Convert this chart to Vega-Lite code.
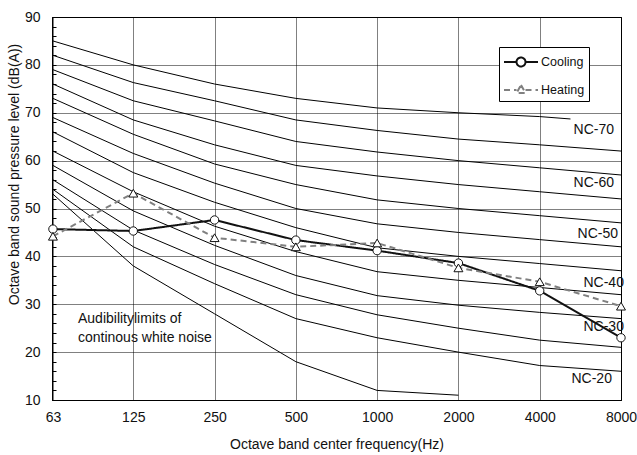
{
  "$schema": "https://vega.github.io/schema/vega-lite/v6.json",
  "width": 569,
  "height": 383,
  "autosize": {"type": "none"},
  "padding": {"left": 52, "top": 17, "right": 16, "bottom": 55},
  "background": "white",
  "config": {
    "view": {"stroke": "black", "strokeWidth": 1},
    "font": "Liberation Sans",
    "axis": {"labelColor": "#111", "titleColor": "#111", "labelFontSize": 14, "titleFontSize": 14, "titleFontWeight": "normal", "domainColor": "black"}
  },
  "datasets": {
    "nc": [
      {"curve": "NC-70", "freq": 63, "level": 85}, {"curve": "NC-70", "freq": 125, "level": 80}, {"curve": "NC-70", "freq": 250, "level": 76}, {"curve": "NC-70", "freq": 500, "level": 73}, {"curve": "NC-70", "freq": 1000, "level": 71}, {"curve": "NC-70", "freq": 2000, "level": 70}, {"curve": "NC-70", "freq": 4000, "level": 69.2}, {"curve": "NC-70", "freq": 5200, "level": 68.7},
      {"curve": "NC-65", "freq": 63, "level": 82}, {"curve": "NC-65", "freq": 125, "level": 76.3}, {"curve": "NC-65", "freq": 250, "level": 72.5}, {"curve": "NC-65", "freq": 500, "level": 68.5}, {"curve": "NC-65", "freq": 1000, "level": 66.3}, {"curve": "NC-65", "freq": 2000, "level": 64.5}, {"curve": "NC-65", "freq": 4000, "level": 63.3}, {"curve": "NC-65", "freq": 8000, "level": 62},
      {"curve": "NC-60", "freq": 63, "level": 79}, {"curve": "NC-60", "freq": 125, "level": 72.5}, {"curve": "NC-60", "freq": 250, "level": 68.3}, {"curve": "NC-60", "freq": 500, "level": 64}, {"curve": "NC-60", "freq": 1000, "level": 61.8}, {"curve": "NC-60", "freq": 2000, "level": 60}, {"curve": "NC-60", "freq": 4000, "level": 58.5}, {"curve": "NC-60", "freq": 8000, "level": 57},
      {"curve": "NC-55", "freq": 63, "level": 76}, {"curve": "NC-55", "freq": 125, "level": 68.5}, {"curve": "NC-55", "freq": 250, "level": 63.3}, {"curve": "NC-55", "freq": 500, "level": 59}, {"curve": "NC-55", "freq": 1000, "level": 56.8}, {"curve": "NC-55", "freq": 2000, "level": 55}, {"curve": "NC-55", "freq": 4000, "level": 53.5}, {"curve": "NC-55", "freq": 8000, "level": 52},
      {"curve": "NC-50", "freq": 63, "level": 73}, {"curve": "NC-50", "freq": 125, "level": 65.5}, {"curve": "NC-50", "freq": 250, "level": 59.3}, {"curve": "NC-50", "freq": 500, "level": 55}, {"curve": "NC-50", "freq": 1000, "level": 51.8}, {"curve": "NC-50", "freq": 2000, "level": 50}, {"curve": "NC-50", "freq": 4000, "level": 48.5}, {"curve": "NC-50", "freq": 8000, "level": 47},
      {"curve": "NC-45", "freq": 63, "level": 69}, {"curve": "NC-45", "freq": 125, "level": 61.5}, {"curve": "NC-45", "freq": 250, "level": 55.3}, {"curve": "NC-45", "freq": 500, "level": 50}, {"curve": "NC-45", "freq": 1000, "level": 46.8}, {"curve": "NC-45", "freq": 2000, "level": 45}, {"curve": "NC-45", "freq": 4000, "level": 43.5}, {"curve": "NC-45", "freq": 8000, "level": 42},
      {"curve": "NC-40", "freq": 63, "level": 66}, {"curve": "NC-40", "freq": 125, "level": 57.5}, {"curve": "NC-40", "freq": 250, "level": 51.3}, {"curve": "NC-40", "freq": 500, "level": 46}, {"curve": "NC-40", "freq": 1000, "level": 41.8}, {"curve": "NC-40", "freq": 2000, "level": 40}, {"curve": "NC-40", "freq": 4000, "level": 38.5}, {"curve": "NC-40", "freq": 8000, "level": 37},
      {"curve": "NC-35", "freq": 63, "level": 62}, {"curve": "NC-35", "freq": 125, "level": 53.5}, {"curve": "NC-35", "freq": 250, "level": 46.3}, {"curve": "NC-35", "freq": 500, "level": 41}, {"curve": "NC-35", "freq": 1000, "level": 36.8}, {"curve": "NC-35", "freq": 2000, "level": 35}, {"curve": "NC-35", "freq": 4000, "level": 33.5}, {"curve": "NC-35", "freq": 8000, "level": 32},
      {"curve": "NC-30", "freq": 63, "level": 59}, {"curve": "NC-30", "freq": 125, "level": 49.5}, {"curve": "NC-30", "freq": 250, "level": 42.3}, {"curve": "NC-30", "freq": 500, "level": 36}, {"curve": "NC-30", "freq": 1000, "level": 31.8}, {"curve": "NC-30", "freq": 2000, "level": 29.8}, {"curve": "NC-30", "freq": 4000, "level": 28.3}, {"curve": "NC-30", "freq": 8000, "level": 27},
      {"curve": "NC-25", "freq": 63, "level": 56}, {"curve": "NC-25", "freq": 125, "level": 45.5}, {"curve": "NC-25", "freq": 250, "level": 38.3}, {"curve": "NC-25", "freq": 500, "level": 32}, {"curve": "NC-25", "freq": 1000, "level": 27.8}, {"curve": "NC-25", "freq": 2000, "level": 25}, {"curve": "NC-25", "freq": 4000, "level": 22.5}, {"curve": "NC-25", "freq": 8000, "level": 21},
      {"curve": "NC-20", "freq": 63, "level": 54}, {"curve": "NC-20", "freq": 125, "level": 42}, {"curve": "NC-20", "freq": 250, "level": 34.3}, {"curve": "NC-20", "freq": 500, "level": 27}, {"curve": "NC-20", "freq": 1000, "level": 23}, {"curve": "NC-20", "freq": 2000, "level": 20}, {"curve": "NC-20", "freq": 4000, "level": 17.2}, {"curve": "NC-20", "freq": 8000, "level": 16},
      {"curve": "Audibility", "freq": 63, "level": 53}, {"curve": "Audibility", "freq": 125, "level": 38}, {"curve": "Audibility", "freq": 250, "level": 28}, {"curve": "Audibility", "freq": 500, "level": 18}, {"curve": "Audibility", "freq": 1000, "level": 12}, {"curve": "Audibility", "freq": 2000, "level": 11}
    ],
    "meas": [
      {"mode": "Cooling", "freq": 63, "level": 45.7}, {"mode": "Cooling", "freq": 125, "level": 45.3}, {"mode": "Cooling", "freq": 250, "level": 47.6}, {"mode": "Cooling", "freq": 500, "level": 43.4}, {"mode": "Cooling", "freq": 1000, "level": 41.2}, {"mode": "Cooling", "freq": 2000, "level": 38.6}, {"mode": "Cooling", "freq": 4000, "level": 32.8}, {"mode": "Cooling", "freq": 8000, "level": 23},
      {"mode": "Heating", "freq": 63, "level": 44.2}, {"mode": "Heating", "freq": 125, "level": 53.2}, {"mode": "Heating", "freq": 250, "level": 43.9}, {"mode": "Heating", "freq": 500, "level": 42}, {"mode": "Heating", "freq": 1000, "level": 42.8}, {"mode": "Heating", "freq": 2000, "level": 37.6}, {"mode": "Heating", "freq": 4000, "level": 34.7}, {"mode": "Heating", "freq": 8000, "level": 29.6}
    ],
    "labels": [
      {"label": "NC-70", "freq": 7537, "level": 66.4},
      {"label": "NC-60", "freq": 7537, "level": 55.4},
      {"label": "NC-50", "freq": 7797, "level": 44.7},
      {"label": "NC-40", "freq": 8204, "level": 34.5},
      {"label": "NC-30", "freq": 8204, "level": 25.3},
      {"label": "NC-20", "freq": 7406, "level": 14.3}
    ],
    "note": [
      {"text": "Audibilitylimits of\ncontinous white noise", "freq": 78, "level": 28.4}
    ]
  },
  "resolve": {"axis": {"y": "independent"}},
  "layer": [
    {
      "data": {"name": "nc"},
      "mark": {"type": "line", "color": "black", "strokeWidth": 1},
      "encoding": {
        "x": {
          "field": "freq", "type": "quantitative",
          "scale": {"type": "log", "domain": [62.5, 8000], "nice": false},
          "axis": {
            "values": [63, 125, 250, 500, 1000, 2000, 4000, 8000], "format": "d",
            "title": "Octave band center frequency(Hz)",
            "ticks": false, "labelFlush": false, "labelPadding": 10, "titlePadding": 13,
            "grid": true, "gridDash": [1, 1], "gridColor": "#000", "gridOpacity": 1
          }
        },
        "y": {
          "field": "level", "type": "quantitative",
          "scale": {"domain": [10, 90], "nice": false, "zero": false},
          "axis": {
            "values": [10, 20, 30, 40, 50, 60, 70, 80, 90],
            "title": "Octave band sound pressure level (dB(A))",
            "ticks": false, "labelPadding": 12, "labelOverlap": false,
            "grid": true, "gridDash": [1, 1], "gridColor": "#000", "gridOpacity": 1,
            "titleX": -38, "titleY": 157, "titleAngle": 270, "titleAlign": "center", "titleBaseline": "middle"
          }
        },
        "detail": {"field": "curve"}
      }
    },
    {
      "data": {"name": "meas"},
      "mark": {"type": "line", "strokeWidth": 2},
      "encoding": {
        "x": {"field": "freq", "type": "quantitative"},
        "y": {"field": "level", "type": "quantitative", "axis": null},
        "stroke": {
          "field": "mode", "type": "nominal",
          "scale": {"domain": ["Cooling", "Heating"], "range": ["#111111", "#808080"]},
          "legend": {
            "title": null, "orient": "none", "legendX": 447, "legendY": 30,
            "strokeColor": "black", "fillColor": "white", "padding": 4,
            "symbolSize": 400, "symbolStrokeWidth": 2, "symbolOffset": 7, "labelOffset": 9,
            "rowPadding": 8, "labelFontSize": 12.5, "labelColor": "#111",
            "encode": {
              "symbols": {
                "update": {
                  "shape": {"signal": "datum.value === 'Cooling' ? 'M-1.7,0H-0.45M0.45,0H1.7M-0.45,0A0.45,0.45,0,1,0,0.45,0A0.45,0.45,0,1,0,-0.45,0Z' : 'M-1.7,0H-0.45M0.45,0H1.7M0,-0.5L0.45,0.3L-0.45,0.3Z'"},
                  "fill": {"value": "white"}
                }
              }
            }
          }
        },
        "strokeDash": {
          "field": "mode", "type": "nominal",
          "scale": {"domain": ["Cooling", "Heating"], "range": [[1, 0], [6, 4]]},
          "legend": null
        }
      }
    },
    {
      "data": {"name": "meas"},
      "transform": [{"filter": "datum.mode === 'Cooling'"}],
      "mark": {"type": "point", "shape": "circle", "filled": true, "fill": "white", "stroke": "#111", "strokeWidth": 1, "size": 70, "opacity": 1},
      "encoding": {
        "x": {"field": "freq", "type": "quantitative"},
        "y": {"field": "level", "type": "quantitative", "axis": null}
      }
    },
    {
      "data": {"name": "meas"},
      "transform": [{"filter": "datum.mode === 'Heating'"}],
      "mark": {"type": "point", "shape": "triangle-up", "filled": true, "fill": "white", "stroke": "#111", "strokeWidth": 1, "size": 80, "opacity": 1},
      "encoding": {
        "x": {"field": "freq", "type": "quantitative"},
        "y": {"field": "level", "type": "quantitative", "axis": null}
      }
    },
    {
      "data": {"name": "labels"},
      "mark": {"type": "text", "align": "right", "baseline": "middle", "fontSize": 14, "color": "#111"},
      "encoding": {
        "x": {"field": "freq", "type": "quantitative"},
        "y": {"field": "level", "type": "quantitative", "axis": null},
        "text": {"field": "label"}
      }
    },
    {
      "data": {"name": "note"},
      "mark": {"type": "text", "align": "left", "baseline": "top", "fontSize": 14, "lineBreak": "\n", "lineHeight": 19, "color": "#111"},
      "encoding": {
        "x": {"field": "freq", "type": "quantitative"},
        "y": {
          "field": "level", "type": "quantitative",
          "axis": {
            "orient": "left", "offset": -4, "tickSize": 4, "tickColor": "black",
            "values": [10, 12, 14, 16, 18, 20, 22, 24, 26, 28, 30, 32, 34, 36, 38, 40, 42, 44, 46, 48, 50, 52, 54, 56, 58, 60, 62, 64, 66, 68, 70, 72, 74, 76, 78, 80, 82, 84, 86, 88, 90],
            "labels": false, "domain": false, "grid": false, "title": null
          }
        },
        "text": {"field": "text"}
      }
    }
  ]
}
